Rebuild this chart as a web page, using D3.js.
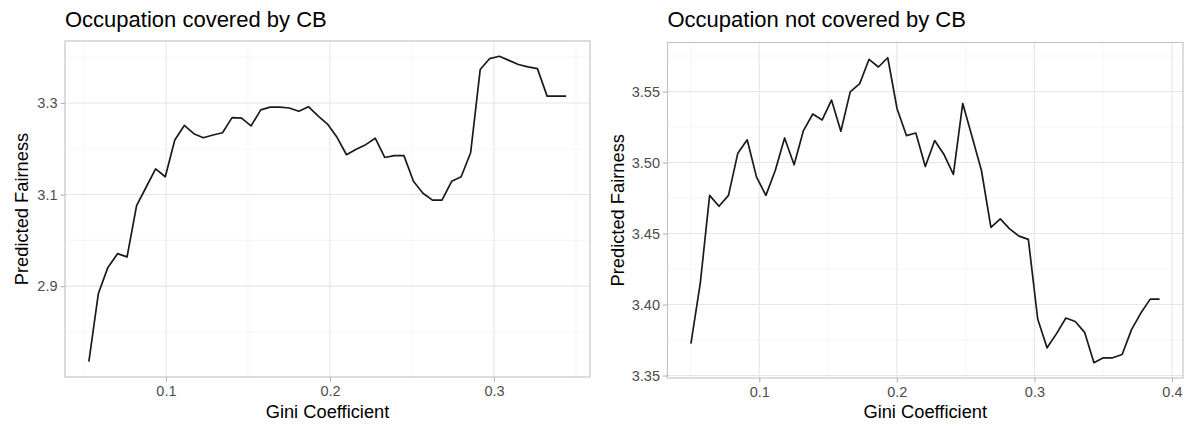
<!DOCTYPE html>
<html>
<head>
<meta charset="utf-8">
<script src="https://cdn.jsdelivr.net/npm/d3@7"></script>
<style>
  body { margin: 0; background: #fff; }
  svg { display: block; font-family: "Liberation Sans", Arial, sans-serif; }
</style>
</head>
<body>
<div id="chart"></div>
<script>
// data
const coveredGini = [0.0530, 0.0588, 0.0646, 0.0705, 0.0763, 0.0821, 0.0879, 0.0937, 0.0996, 0.1054,
  0.1112, 0.1170, 0.1228, 0.1287, 0.1345, 0.1403, 0.1461, 0.1519, 0.1578, 0.1636,
  0.1694, 0.1752, 0.1810, 0.1869, 0.1927, 0.1985, 0.2043, 0.2101, 0.2160, 0.2218,
  0.2276, 0.2334, 0.2392, 0.2451, 0.2509, 0.2567, 0.2625, 0.2683, 0.2742, 0.2800,
  0.2858, 0.2916, 0.2974, 0.3033, 0.3091, 0.3149, 0.3207, 0.3265, 0.3324, 0.3382, 0.3440]
const coveredFairness = [2.735, 2.884, 2.941, 2.971, 2.964, 3.076, 3.116, 3.156, 3.139, 3.219,
  3.251, 3.233, 3.224, 3.230, 3.235, 3.268, 3.267, 3.250, 3.285, 3.291,
  3.291, 3.289, 3.282, 3.292, 3.272, 3.254, 3.225, 3.187, 3.199, 3.209,
  3.223, 3.181, 3.185, 3.185, 3.129, 3.103, 3.088, 3.088, 3.129, 3.139,
  3.192, 3.373, 3.397, 3.402, 3.393, 3.384, 3.379, 3.375, 3.315, 3.315, 3.315]

const notCoveredGini = [0.0503, 0.0571, 0.0639, 0.0707, 0.0776, 0.0844, 0.0912, 0.0980, 0.1048, 0.1116,
  0.1184, 0.1253, 0.1321, 0.1389, 0.1457, 0.1525, 0.1593, 0.1661, 0.1730, 0.1798,
  0.1866, 0.1934, 0.2002, 0.2070, 0.2138, 0.2207, 0.2275, 0.2343, 0.2411, 0.2479,
  0.2547, 0.2615, 0.2684, 0.2752, 0.2820, 0.2888, 0.2956, 0.3024, 0.3092, 0.3161,
  0.3229, 0.3297, 0.3365, 0.3433, 0.3501, 0.3569, 0.3638, 0.3706, 0.3774, 0.3842, 0.3910]
const notCoveredFairness = [3.3725, 3.415, 3.4769, 3.4692, 3.4769, 3.5066, 3.516, 3.4897, 3.4769, 3.4944,
  3.5173, 3.4984, 3.5225, 3.5342, 3.530, 3.544, 3.522, 3.5498, 3.5556, 3.5727,
  3.5673, 3.5738, 3.5377, 3.519, 3.5208, 3.4972, 3.5155, 3.5056, 3.4916, 3.5416,
  3.5182, 3.4944, 3.4543, 3.4603, 3.4533, 3.4482, 3.4459, 3.3898, 3.3695, 3.3795,
  3.3905, 3.3881, 3.3804, 3.359, 3.3625, 3.3625, 3.3648, 3.3823, 3.394, 3.4038, 3.4038]

const coveredXTicks = [0.1, 0.2, 0.3]
const coveredXMinor = [0.05, 0.15, 0.25, 0.35]
const coveredYTicks = [2.9, 3.1, 3.3]
const coveredYMinor = [2.8, 3.0, 3.2, 3.4]

const notCoveredXTicks = [0.1, 0.2, 0.3, 0.4]
const notCoveredXMinor = [0.05, 0.15, 0.25, 0.35]
const notCoveredYTicks = [3.35, 3.40, 3.45, 3.50, 3.55]
const notCoveredYMinor = [3.375, 3.425, 3.475, 3.525, 3.575]

const width = 1191
const height = 426

const svg = d3.select('#chart')
  .append('svg')
  .attr('width', width)
  .attr('height', height)

// ggplot style 5% padding around the data
function padded(values) {
  const [lo, hi] = d3.extent(values)
  const pad = (hi - lo) * 0.05
  return [lo - pad, hi + pad]
}

function drawPanel(opts) {
  const { left, right, top, bottom } = opts.box
  const x = d3.scaleLinear().domain(padded(opts.xs)).range([left, right])
  const y = d3.scaleLinear().domain(padded(opts.ys)).range([bottom, top])

  const g = svg.append('g')

  // minor grid
  g.selectAll('.vminor').data(opts.xMinor.filter(d => x(d) > left && x(d) < right))
    .enter().append('line')
    .attr('x1', d => x(d)).attr('x2', d => x(d))
    .attr('y1', top).attr('y2', bottom)
    .attr('stroke', '#f2f2f2').attr('stroke-width', 0.7)
  g.selectAll('.hminor').data(opts.yMinor.filter(d => y(d) > top && y(d) < bottom))
    .enter().append('line')
    .attr('x1', left).attr('x2', right)
    .attr('y1', d => y(d)).attr('y2', d => y(d))
    .attr('stroke', '#f2f2f2').attr('stroke-width', 0.7)

  // major grid
  g.selectAll('.vmajor').data(opts.xTicks)
    .enter().append('line')
    .attr('x1', d => x(d)).attr('x2', d => x(d))
    .attr('y1', top).attr('y2', bottom)
    .attr('stroke', '#e6e6e6').attr('stroke-width', 1.1)
  g.selectAll('.hmajor').data(opts.yTicks)
    .enter().append('line')
    .attr('x1', left).attr('x2', right)
    .attr('y1', d => y(d)).attr('y2', d => y(d))
    .attr('stroke', '#e6e6e6').attr('stroke-width', 1.1)

  // the line
  const line = d3.line().x(d => x(d[0])).y(d => y(d[1]))
  g.append('path')
    .datum(d3.zip(opts.xs, opts.ys))
    .attr('d', line)
    .attr('fill', 'none')
    .attr('stroke', '#1a1a1a')
    .attr('stroke-width', 1.7)
    .attr('stroke-linejoin', 'round')

  // border
  g.append('rect')
    .attr('x', left).attr('y', top)
    .attr('width', right - left).attr('height', bottom - top)
    .attr('fill', 'none')
    .attr('stroke', '#c6c6c6')
    .attr('stroke-width', 1.2)

  // axes
  const xAxis = g.append('g')
    .attr('transform', `translate(0,${bottom})`)
    .call(d3.axisBottom(x).tickValues(opts.xTicks).tickFormat(d3.format('.1f')).tickSize(4.5).tickPadding(4))
  const yAxis = g.append('g')
    .attr('transform', `translate(${left},0)`)
    .call(d3.axisLeft(y).tickValues(opts.yTicks).tickFormat(d3.format(opts.yFormat)).tickSize(4.5).tickPadding(3))

  for (const ax of [xAxis, yAxis]) {
    ax.select('.domain').remove()
    ax.selectAll('.tick line').attr('stroke', '#b3b3b3').attr('stroke-width', 1.1)
    ax.selectAll('.tick text')
      .attr('fill', '#4d4d4d')
      .style('font-size', '14.5px')
      .style('font-family', '"Liberation Sans", Arial, sans-serif')
  }

  // titles
  g.append('text')
    .attr('x', left).attr('y', 27)
    .text(opts.title)
    .style('font-size', '22px')
    .attr('fill', '#000')

  g.append('text')
    .attr('x', (left + right) / 2).attr('y', 418)
    .attr('text-anchor', 'middle')
    .text('Gini Coefficient')
    .style('font-size', '18.3px')
    .attr('fill', '#000')

  g.append('text')
    .attr('transform', `translate(${opts.yTitleX},${(top + bottom) / 2}) rotate(-90)`)
    .attr('text-anchor', 'middle')
    .text('Predicted Fairness')
    .style('font-size', '18.3px')
    .attr('fill', '#000')
}

drawPanel({
  box: { left: 65, right: 590, top: 41, bottom: 377 },
  xs: coveredGini, ys: coveredFairness,
  xTicks: coveredXTicks, xMinor: coveredXMinor,
  yTicks: coveredYTicks, yMinor: coveredYMinor,
  yFormat: '.1f',
  title: 'Occupation covered by CB',
  yTitleX: 28
})

drawPanel({
  box: { left: 667.5, right: 1183, top: 42.5, bottom: 378 },
  xs: notCoveredGini, ys: notCoveredFairness,
  xTicks: notCoveredXTicks, xMinor: notCoveredXMinor,
  yTicks: notCoveredYTicks, yMinor: notCoveredYMinor,
  yFormat: '.2f',
  title: 'Occupation not covered by CB',
  yTitleX: 624
})
</script>
</body>
</html>
